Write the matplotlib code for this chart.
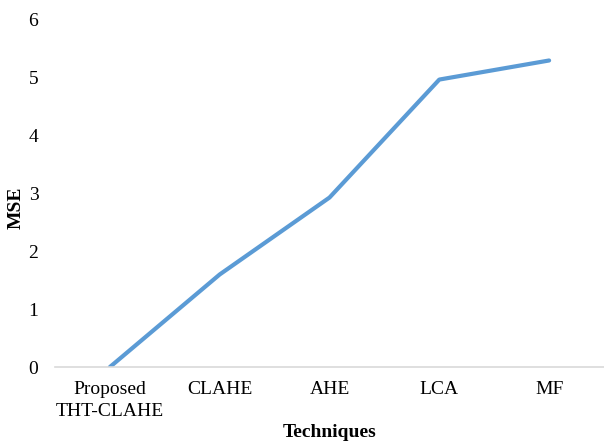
import matplotlib
matplotlib.use("Agg")
import matplotlib.pyplot as plt

techniques = ["Proposed\nTHT-CLAHE", "CLAHE", "AHE", "LCA", "MF"]
mse = [0.0, 1.6, 2.93, 4.97, 5.3]
y_ticks = [0, 1, 2, 3, 4, 5, 6]

plt.rcParams['font.family'] = ['Liberation Serif', 'DejaVu Serif']

fig = plt.figure(figsize=(6.04, 4.42), dpi=100)
ax = fig.add_axes([55 / 604, 1 - 367 / 442, 1 - 55 / 604, (367 - 20) / 442])

x = range(len(techniques))
ax.plot(x, mse, color="#5B9BD5", linewidth=3, solid_capstyle="round")

ax.set_xlim(-0.5, len(techniques) - 0.5)
ax.set_ylim(0, 6)
ax.set_yticks(y_ticks)
ax.set_xticks(list(x))
ax.set_xticklabels(techniques, fontsize=14, linespacing=1.4)
ax.tick_params(axis="y", labelsize=14, length=0, pad=12)
ax.tick_params(axis="x", length=0, pad=10)

for side in ["top", "right", "left"]:
    ax.spines[side].set_visible(False)
ax.spines["bottom"].set_color("#d9d9d9")
ax.spines["bottom"].set_linewidth(1.2)

ax.set_xlabel("Techniques", fontsize=14, fontweight="bold", labelpad=3)
ax.set_ylabel("MSE", fontsize=14, fontweight="bold")
ax.yaxis.set_label_coords(-0.055, 0.46)

fig.savefig("out.png", dpi=100)
